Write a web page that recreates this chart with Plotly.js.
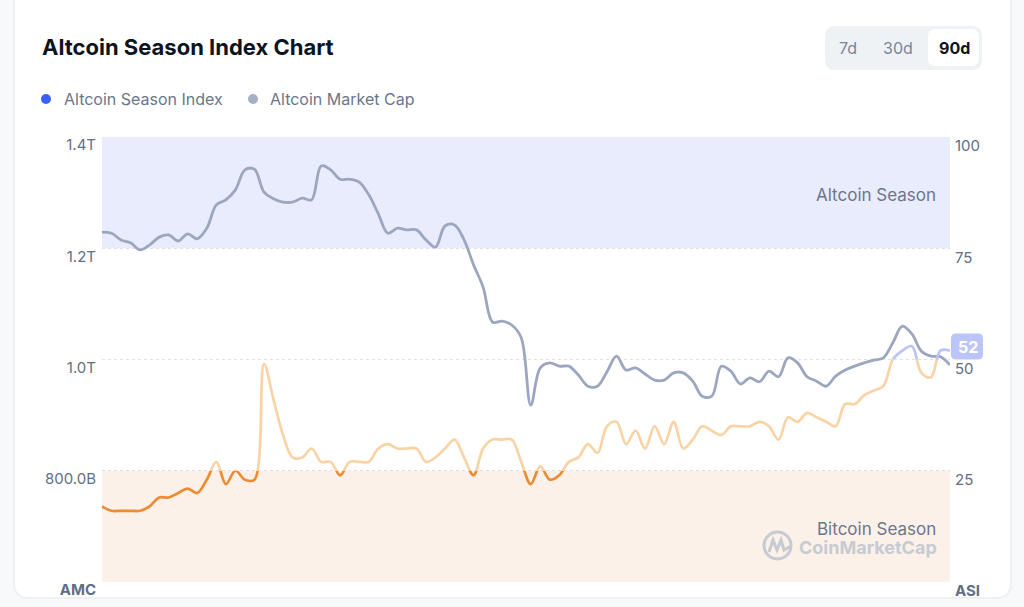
<!DOCTYPE html>
<html><head><meta charset="utf-8">
<script src="https://cdn.plot.ly/plotly-3.0.1.min.js"></script>
<style>html,body{margin:0;padding:0;background:#f8f9fb;overflow:hidden}#chart{width:1024px;height:607px}</style>
</head><body><div id="chart"></div>
<script>
// ---------- data ----------
const seriesNames = ['Altcoin Season Index', 'Altcoin Market Cap'];
// Altcoin market cap, billions USD, one value per day (90 days)
const marketCapB = [
  1229,1227,1215,1210,1197,1206,1220,1224,1213,1226,
  1217,1236,1278,1287,1305,1341,1342,1301,1289,1283,
  1283,1290,1287,1348,1341,1324,1324,1319,1296,1262,
  1227,1236,1233,1233,1215,1202,1240,1242,1215,1170,
  1130,1067,1069,1062,1039,918,985,994,988,988,
  972,952,952,978,1006,981,985,974,963,963,
  976,976,961,934,934,988,979,956,967,960,
  979,969,1003,994,969,961,952,970,981,988,
  994,999,1003,1030,1060,1046,1015,1006,1005,990
];
// Altcoin Season Index (0-100), one value per day
const seasonIndex = [
  17,16,16,16,16,17,19,19,20,21,
  20,23,27,22,25,23,23,49,41,33,
  28,28,30,27,27,24,27,27,27,30,
  31,30,30,30,27,28,30,32,28,24,
  30,32,32,32,27,22,26,23,24,27,
  28,31,29,35,36,31,34,30,35,31,
  36,30,32,35,34,33,35,35,35,36,
  35,32,37,36,38,37,36,35,40,40,
  42,43,44,50,52,53,47,46,52,52
];
const leftTickVals = [600, 800, 1000, 1200, 1400];
const leftTickText = ['<b>AMC</b>', '800.0B', '1.0T', '1.2T', '1.4T'];
const rightTickVals = [0, 25, 50, 75, 100];
const rightTickText = ['<b>ASI</b>', '25', '50', '75', '100'];
const bandNames = ['Altcoin Season', 'Bitcoin Season'];
const bandFrom = [75, 0];
const bandTo = [100, 25];
const zoneFrom = [0, 25, 50];
const zoneTo = [25, 50, 100];
const rangeButtons = ['7d', '30d', '90d'];

// ---------- geometry helpers ----------
const W = 1024, H = 607, ML = 102, MR = 74, MT = 137, MB = 25;
const PW = W - ML - MR, PH = H - MT - MB;
const px = x => (x - ML) / PW;
const py = y => (H - MB - y) / PH;
function rr(x0, y0, x1, y1, r) {
  const P = (x, y) => px(x) + ',' + py(y);
  return 'M' + P(x0 + r, y0) + ' L' + P(x1 - r, y0) + ' Q' + P(x1, y0) + ' ' + P(x1, y0 + r) +
    ' L' + P(x1, y1 - r) + ' Q' + P(x1, y1) + ' ' + P(x1 - r, y1) +
    ' L' + P(x0 + r, y1) + ' Q' + P(x0, y1) + ' ' + P(x0, y1 - r) +
    ' L' + P(x0, y0 + r) + ' Q' + P(x0, y0) + ' ' + P(x0 + r, y0) + ' Z';
}
const FONT = 'Inter, "Noto Sans", sans-serif';
const GREY = '#616e85';

const mcColor = '#9ca6bf';
const zoneColors = ['#ee8a32', '#fad3a4', '#bac4fa'];
const bandColors = ['#e9ecfd', '#fcf1e9'];

// ---------- traces ----------
const traces = [];
traces.push({
  y: marketCapB, xaxis: 'x', yaxis: 'y', type: 'scatter', mode: 'lines',
  name: seriesNames[1], line: {color: mcColor, width: 2.8, shape: 'spline', smoothing: 1},
  hoverinfo: 'skip', showlegend: false
});
zoneFrom.forEach((z, i) => {
  traces.push({
    y: seasonIndex, xaxis: 'x', yaxis: 'y' + (i + 3), type: 'scatter', mode: 'lines',
    name: seriesNames[0], line: {color: zoneColors[i], width: 2.7, shape: 'spline', smoothing: 1},
    hoverinfo: 'skip', showlegend: false
  });
});

// ---------- shapes ----------
const shapes = [
  {type: 'path', xref: 'paper', yref: 'paper', layer: 'below', path: rr(13, -30, 1012, 599, 16), fillcolor: '#eef0f4', line: {width: 0}},
  {type: 'path', xref: 'paper', yref: 'paper', layer: 'below', path: rr(15, -30, 1010, 597, 14), fillcolor: '#ffffff', line: {width: 0}},
  // range selector
  {type: 'path', xref: 'paper', yref: 'paper', path: rr(825, 26, 982, 70, 10), fillcolor: '#eff2f5', line: {width: 0}},
  {type: 'path', xref: 'paper', yref: 'paper', path: rr(928, 29, 979, 66, 8), fillcolor: '#ffffff', line: {width: 0}},
  // legend dots
  {type: 'circle', xref: 'paper', yref: 'paper', x0: px(41), x1: px(51), y0: py(94), y1: py(104), fillcolor: '#3861fb', line: {width: 0}},
  {type: 'circle', xref: 'paper', yref: 'paper', x0: px(248), x1: px(258), y0: py(94), y1: py(104), fillcolor: '#a6b0c3', line: {width: 0}},
  // watermark logo
  {type: 'circle', xref: 'paper', yref: 'paper', x0: px(764), x1: px(791), y0: py(532), y1: py(559), fillcolor: 'rgba(0,0,0,0)', line: {color: '#c6cad2', width: 3}},
  {type: 'path', xref: 'paper', yref: 'paper', line: {color: '#c6cad2', width: 3},
    path: 'M' + px(769) + ',' + py(552) + ' L' + px(773) + ',' + py(540) + ' L' + px(777) + ',' + py(550) + ' L' + px(781) + ',' + py(540) + ' L' + px(784) + ',' + py(550) + ' L' + px(791) + ',' + py(546)}
];
bandNames.forEach((b, i) => {
  shapes.push({type: 'rect', xref: 'x', yref: 'y2', x0: 0, x1: seasonIndex.length - 1, y0: bandFrom[i], y1: bandTo[i],
    fillcolor: bandColors[i], line: {width: 0}, layer: 'below'});
});
// value badge anchored at last index value
const lastVal = seasonIndex[seasonIndex.length - 1];
shapes.push({type: 'path', xref: 'paper', yref: 'y2', xsizemode: 'pixel', ysizemode: 'pixel', xanchor: 1, yanchor: lastVal,
  path: 'M6,17 L28,17 Q33,17 33,12 L33,-4 Q33,-9 28,-9 L6,-9 Q1,-9 1,-4 L1,12 Q1,17 6,17 Z',
  fillcolor: '#bcc5f9', line: {width: 0}});

// ---------- annotations ----------
const annotations = [];
const btnX = [848, 898, 954];
rangeButtons.forEach((t, i) => {
  const sel = i === rangeButtons.length - 1;
  annotations.push({xref: 'paper', yref: 'paper', x: px(btnX[i]), y: py(47.5), text: t, showarrow: false,
    xanchor: 'center', yanchor: 'middle',
    font: {family: FONT, size: 16, color: sel ? '#0d1421' : '#7a8499', weight: sel ? 700 : 400}});
});
const legX = [62, 268];
seriesNames.forEach((n, i) => {
  annotations.push({xref: 'paper', yref: 'paper', x: px(legX[i]), y: py(99.5), text: n, showarrow: false,
    xanchor: 'left', yanchor: 'middle', font: {family: FONT, size: 16, color: '#6b768c'}});
});
const bandLabelY = [87, 12];
bandNames.forEach((b, i) => {
  annotations.push({xref: 'paper', yref: 'y2', x: px(938), y: bandLabelY[i], text: b, showarrow: false,
    xanchor: 'right', yanchor: 'middle', font: {family: FONT, size: 17, color: '#6b768c'}});
});
annotations.push({xref: 'paper', yref: 'paper', x: px(939), y: py(547), text: 'CoinMarketCap', showarrow: false,
  xanchor: 'right', yanchor: 'middle', font: {family: FONT, size: 18, color: '#c6cad2', weight: 700}});
annotations.push({xref: 'paper', yref: 'y2', x: px(967.5), y: lastVal, yshift: 4, text: String(lastVal), showarrow: false,
  xanchor: 'center', yanchor: 'middle', font: {family: FONT, size: 16, color: '#ffffff', weight: 700}});

// ---------- layout ----------
const axisFont = {family: FONT, size: 15, color: GREY};
const layout = {
  width: W, height: H,
  margin: {l: ML, r: MR, t: MT, b: MB, pad: 0},
  paper_bgcolor: '#f8f9fb', plot_bgcolor: 'rgba(0,0,0,0)',
  showlegend: false,
  title: {text: 'Altcoin Season Index Chart', xref: 'container', yref: 'container', x: 42 / W, xanchor: 'left',
    y: 1 - 47 / H, yanchor: 'middle', font: {family: FONT, size: 22, weight: 700, color: '#0d1421'}},
  xaxis: {range: [0, marketCapB.length - 1], showgrid: false, zeroline: false, showticklabels: false, showline: false, fixedrange: true, anchor: 'y'},
  yaxis: {range: [leftTickVals[0], leftTickVals[leftTickVals.length - 1]], tickmode: 'array', tickvals: leftTickVals, ticktext: leftTickText,
    showgrid: true, gridcolor: '#dde1e8', griddash: 'dot', gridwidth: 1, zeroline: false, showline: false, ticks: '',
    tickfont: axisFont, ticklabelshift: 8, ticklabelstandoff: 5, anchor: 'x'},
  yaxis2: {range: [0, 100], overlaying: 'y', side: 'right', tickmode: 'array', tickvals: rightTickVals, ticktext: rightTickText,
    showgrid: false, zeroline: false, showline: false, ticks: '', tickfont: axisFont, ticklabelshift: 9, ticklabelstandoff: 4, anchor: 'x'},
  shapes: shapes, annotations: annotations
};
zoneFrom.forEach((z, i) => {
  layout['yaxis' + (i + 3)] = {domain: [zoneFrom[i] / 100, zoneTo[i] / 100], range: [zoneFrom[i], zoneTo[i]], visible: false, anchor: 'x', fixedrange: true};
});

Plotly.newPlot('chart', traces, layout, {displayModeBar: false, staticPlot: true});
</script></body></html>
